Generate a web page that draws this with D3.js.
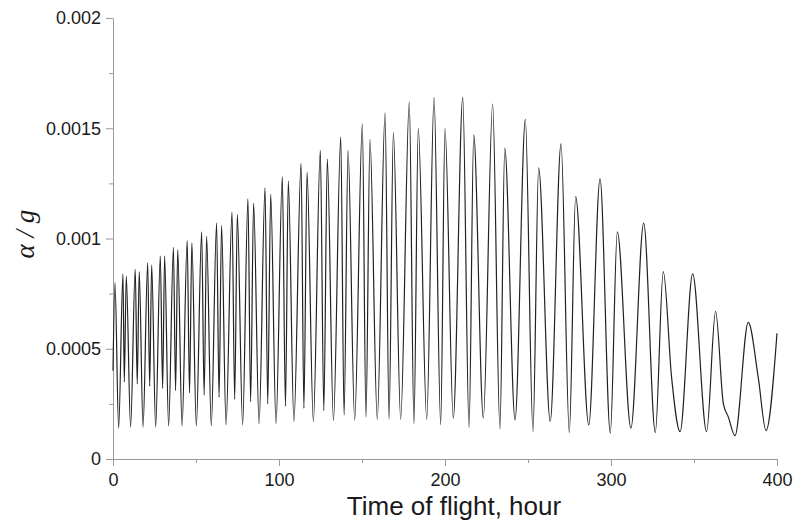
<!DOCTYPE html>
<html>
<head>
<meta charset="utf-8">
<script src="https://cdn.jsdelivr.net/npm/d3@7"></script>
<style>
  html, body { margin: 0; padding: 0; background: #fff; }
  svg { display: block; }
</style>
</head>
<body>
<svg id="chart" width="794" height="524"></svg>
<script>
// ---- data (local extrema of the curve) ----
const hours = [
  0, 1.2, 3.4, 6.0, 6.8, 8.0, 10.6, 13.4, 14.6, 15.8, 18.1, 20.9, 22.1, 23.3, 25.7,
  28.5, 29.9, 31.1, 33.5, 36.4, 37.7, 39.0, 41.6, 44.7, 46.1, 47.5, 50.2,
  53.4, 54.9, 56.4, 59.2, 62.4, 63.9, 65.4, 68.1, 71.7, 73.3, 74.9, 78.1,
  81.3, 82.9, 84.7, 88.0, 91.6, 93.2, 95.0, 98.2, 102.0, 103.9, 105.6, 109.0,
  113.3, 115.0, 116.9, 120.7, 124.9, 127.0, 129.1, 132.8, 137.2, 139.2, 141.6, 145.6,
  150.2, 152.4, 154.8, 159.2, 163.9, 166.3, 168.9, 173.3, 178.5, 181.3, 183.9, 189.0,
  193.4, 197.4, 200.0, 205.0, 210.7, 214.5, 217.3, 223.1, 228.7, 233.1, 236.0, 242.2,
  248.4, 253.0, 256.4, 263.4, 269.9, 274.9, 278.7, 286.6, 293.4, 299.6, 303.8, 312.0,
  319.7, 326.7, 331.5, 336.5, 341.6, 349.2, 357.6, 363.0, 367.7, 370.7, 374.7,
  382.7, 388.7, 393.4, 400.0
];
const accel = [
  0.00040, 0.00080, 0.000140, 0.00084, 0.00035, 0.00083, 0.000145, 0.00086, 0.00034, 0.00085, 0.000145, 0.00089, 0.00033, 0.00088, 0.000145,
  0.00092, 0.00032, 0.00092, 0.00015, 0.00096, 0.00031, 0.00095, 0.00015, 0.00099, 0.00030, 0.00098, 0.00015,
  0.00103, 0.00029, 0.00101, 0.00015, 0.00107, 0.00028, 0.00106, 0.000155, 0.00112, 0.00027, 0.00111, 0.000155,
  0.00118, 0.00026, 0.00116, 0.00016, 0.00123, 0.00025, 0.00120, 0.00016, 0.00128, 0.00024, 0.00126, 0.00017,
  0.00134, 0.00023, 0.00130, 0.00017, 0.00140, 0.00022, 0.00136, 0.000175, 0.00146, 0.00020, 0.00140, 0.000177,
  0.00152, 0.00019, 0.00145, 0.00018, 0.00157, 0.00018, 0.00148, 0.00018, 0.00162, 0.00016, 0.00150, 0.00018,
  0.00164, 0.000155, 0.00150, 0.000185, 0.00164, 0.000142, 0.00147, 0.000185, 0.00161, 0.000136, 0.00141, 0.000177,
  0.00154, 0.000124, 0.00132, 0.00017, 0.00143, 0.00012, 0.00119, 0.000155, 0.00127, 0.000117, 0.00103, 0.00014,
  0.00107, 0.00012, 0.00085, 0.00037, 0.000124, 0.00084, 0.000124, 0.00067, 0.00025, 0.00019, 0.000106,
  0.00062, 0.00037, 0.000129, 0.00057
];
const xTicks = [0, 100, 200, 300, 400];
const xMinorTicks = [50, 150, 250, 350];
const yTicks = [0, 0.0005, 0.001, 0.0015, 0.002];
const yTickLabels = ["0", "0.0005", "0.001", "0.0015", "0.002"];
const yMinorTicks = [0.00025, 0.00075, 0.00125, 0.00175];
const xTitle = "Time of flight, hour";
const yTitle = "α / g";

// ---- layout ----
const svg = d3.select("#chart");
const x = d3.scaleLinear().domain([0, 400]).range([113, 777]);
const y = d3.scaleLinear().domain([0, 0.002]).range([459, 18]);
const axisColor = "#9a9a9a";
const textColor = "#1a1a1a";

// minor ticks
svg.append("g").attr("transform", `translate(0,${y(0)})`)
  .call(d3.axisBottom(x).tickValues(xMinorTicks).tickFormat("").tickSize(4).tickSizeOuter(0))
  .call(g => g.select(".domain").remove());
svg.append("g").attr("transform", `translate(${x(0)},0)`)
  .call(d3.axisLeft(y).tickValues(yMinorTicks).tickFormat("").tickSize(4).tickSizeOuter(0))
  .call(g => g.select(".domain").remove());

// major axes
svg.append("g").attr("transform", `translate(0,${y(0)})`)
  .call(d3.axisBottom(x).tickValues(xTicks).tickFormat(d3.format("d")).tickSize(7).tickSizeOuter(0).tickPadding(7));
svg.append("g").attr("transform", `translate(${x(0)},0)`)
  .call(d3.axisLeft(y).tickValues(yTicks).tickFormat((d, i) => yTickLabels[i]).tickSize(7).tickSizeOuter(0).tickPadding(5));

svg.selectAll(".domain, .tick line").attr("stroke", axisColor).attr("stroke-width", 1);
svg.selectAll(".tick text")
  .attr("fill", textColor)
  .style("font-family", "'Liberation Sans', Arial, sans-serif")
  .style("font-size", "18px");

// curve
const line = d3.line()
  .x((d, i) => x(hours[i]))
  .y(d => y(d))
  .curve(d3.curveMonotoneX);
svg.append("path")
  .datum(accel)
  .attr("d", line)
  .attr("fill", "none")
  .attr("stroke", "#222")
  .attr("stroke-width", 1.2)
  .attr("stroke-linejoin", "round");

// titles
svg.append("text")
  .attr("x", (x(0) + x(400)) / 2 + 9)
  .attr("y", 515)
  .attr("text-anchor", "middle")
  .attr("fill", textColor)
  .style("font-family", "'Liberation Sans', Arial, sans-serif")
  .style("font-size", "26px")
  .text(xTitle);

svg.append("text")
  .attr("transform", `translate(34,${y(0.00102)}) rotate(-90)`)
  .attr("text-anchor", "middle")
  .attr("fill", textColor)
  .style("font-family", "'Liberation Serif', 'Times New Roman', serif")
  .style("font-style", "italic")
  .style("font-size", "27px")
  .text(yTitle);
</script>
</body>
</html>
